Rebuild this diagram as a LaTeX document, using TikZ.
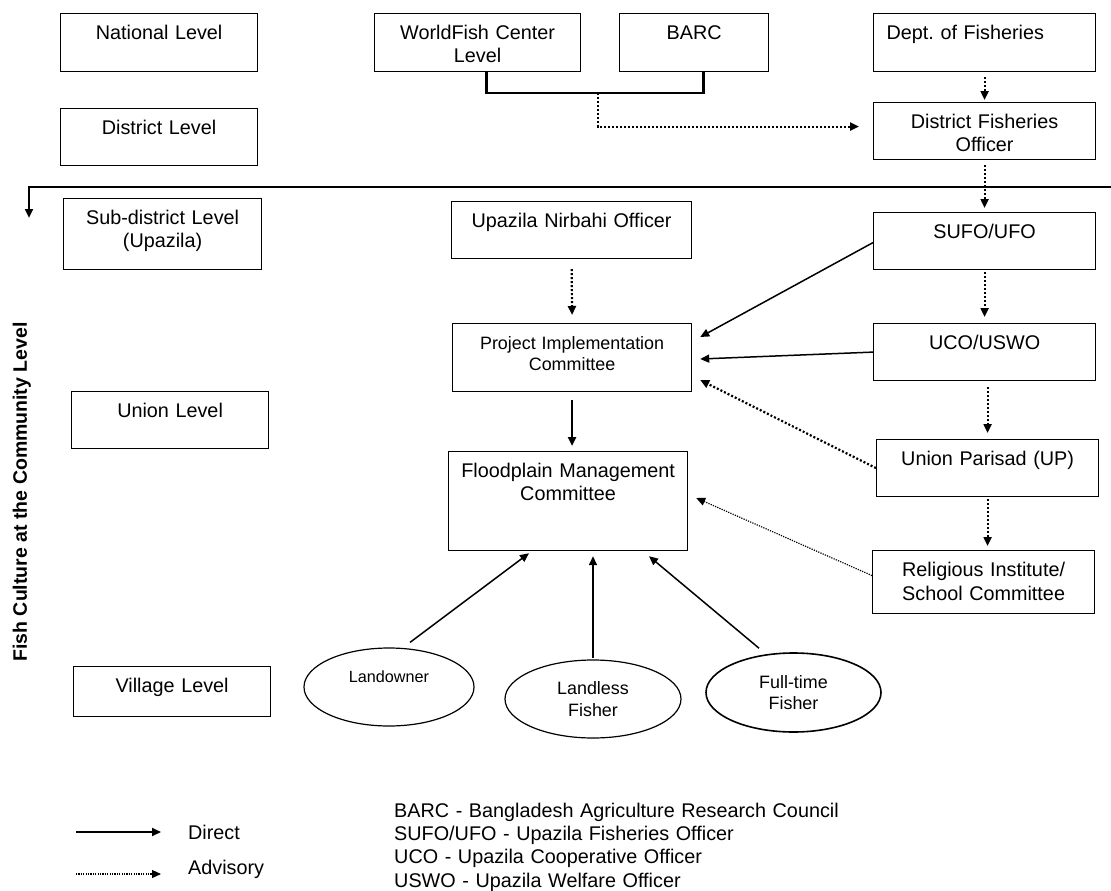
\documentclass[tikz,border=0pt]{standalone}
\usepackage{fontspec}
\setmainfont{Liberation Sans}
\usetikzlibrary{arrows.meta,shapes.geometric}
\begin{document}
\begin{tikzpicture}[x=1pt,y=-1pt,
  lvl/.style={draw,line width=1.2pt,anchor=north west,inner xsep=0pt,inner ysep=4pt,align=center,text height=22pt,font=\fontsize{19.8}{22.5}\selectfont},
  ell/.style={draw,line width=1.2pt,ellipse,inner sep=0pt,align=center,font=\fontsize{17.9}{21.5}\selectfont},
  dir/.style={line width=1.5pt,-{Triangle[length=9pt,width=8pt]}},
  adv/.style={line width=2.2pt,dash pattern=on 2pt off 2pt,-{Triangle[length=9pt,width=8pt]}},
  advthin/.style={line width=1.2pt,dash pattern=on 1.2pt off 1.2pt,-{Triangle[length=9pt,width=8pt]}},
  legtext/.style={inner sep=0pt,font=\fontsize{19.8}{23.4}\selectfont}]
\useasboundingbox (0,0) rectangle (1111,891);
\node[lvl,text width=197pt,text depth=28pt] (nat) at (60,13) {National Level};
\node[lvl,text width=197pt,text depth=27pt] (dist) at (60,108) {District Level};
\node[lvl,text width=198pt,text depth=41pt] (sub) at (63,198) {Sub-district Level\\(Upazila)};
\node[lvl,text width=197pt,text depth=27pt] (uni) at (71,391) {Union Level};
\node[lvl,text width=197pt,text depth=20pt] (vil) at (73,666) {Village Level};
\node[lvl,text width=206pt,text depth=28pt] (wf) at (374,13) {WorldFish Center\\Level};
\node[lvl,text width=149pt,text depth=28pt] (barc) at (619,13) {BARC};
\node[lvl,align=left,inner xsep=13pt,text width=196pt,text depth=28pt] (dept) at (873,13) {Dept.\ of Fisheries};
\node[lvl,text width=222pt,text depth=27pt] (dfo) at (873,102) {District Fisheries\\Officer};
\node[lvl,text width=222pt,text depth=27pt] (sufo) at (873,212) {SUFO/UFO};
\node[lvl,text width=240pt,text depth=27pt] (uno) at (451,201) {Upazila Nirbahi Officer};
\node[lvl,text width=239pt,text depth=38pt,font=\fontsize{17.9}{21}\selectfont] (pic) at (452,323) {Project Implementation\\Committee};
\node[lvl,text width=222pt,text depth=27pt] (uco) at (873,323) {UCO/USWO};
\node[lvl,text width=222pt,text depth=27pt] (up) at (876,439) {Union Parisad (UP)};
\node[lvl,text width=239pt,text depth=69pt] (fmc) at (448,451) {Floodplain Management\\Committee};
\node[lvl,text width=222pt,text depth=33pt,font=\fontsize{19.8}{24}\selectfont] (ri) at (872,550) {Religious Institute/\\School Committee};
\node[ell,minimum width=170pt,minimum height=78pt,text depth=20pt,font=\fontsize{16.2}{19}\selectfont] (lo) at (389,687) {Landowner};
\node[ell,minimum width=176pt,minimum height=78pt] (ll) at (593,699) {Landless\\Fisher};
\node[ell,line width=1.6pt,minimum width=175pt,minimum height=79pt] (ft) at (793.5,692.5) {Full-time\\Fisher};
\node[rotate=90,anchor=base,inner sep=0pt,font=\bfseries\fontsize{19.5}{22}\selectfont] (side) at (27,492) {Fish Culture at the Community Level};
\coordinate (jn) at (598,93);
\coordinate (cutr) at (1111,187);
\coordinate (cutl) at (29,218);
\draw [line width=2.5pt] ([xshift=9pt]wf.south) |- (jn) -| ([xshift=9.5pt]barc.south);
\draw [adv,shorten >=14pt] (jn) |- ([yshift=4.5pt]dfo.west);
\draw [line width=2.5pt,-{Triangle[length=9pt,width=8pt]}] (cutr) -| (cutl);
\draw [adv,shorten <=5pt,shorten >=2pt] (dept.south) -- (dfo.north);
\draw [adv,shorten <=5pt,shorten >=4pt] (dfo.south) -- (sufo.north);
\draw [adv,shorten <=2pt,shorten >=6pt] (sufo.south) -- (uco.north);
\draw [adv,shorten <=6pt,shorten >=6pt] (up.north |- uco.south) -- (up.north);
\draw [adv,shorten <=2pt,shorten >=4pt] (up.south) -- (up.south |- ri.north);
\draw [adv,shorten <=10pt,shorten >=8pt] (uno.south) -- (pic.north);
\draw [dir,line width=2.5pt,shorten <=8pt,shorten >=5pt] (pic.south) -- (pic.south |- fmc.north);
\draw [dir] ([yshift=-1.5pt]sufo.west) -- ([shift={(8,14)}]pic.north east);
\draw [dir] (uco.west) -- ([shift={(8,36)}]pic.north east);
\draw [adv] (up.west) -- ([shift={(8,57)}]pic.north east);
\draw [advthin] ([yshift=6.5pt]ri.west) -- ([shift={(8,47)}]fmc.north east);
\draw [dir] ([shift={(21,-5)}]lo.north) -- ([shift={(81,2)}]fmc.south west);
\draw [dir] ([yshift=1pt]ll.north) -- ([shift={(145,5)}]fmc.south west);
\draw [dir] ([shift={(-34.5,-4)}]ft.north) -- ([shift={(201,5)}]fmc.south west);
\coordinate (ld0) at (76,832);
\coordinate (ld1) at (161,832);
\coordinate (la0) at (76,874);
\coordinate (la1) at (161,874);
\draw [dir,line width=2pt] (ld0) -- (ld1);
\draw [advthin] (la0) -- (la1);
\node[legtext,anchor=west] (ldt) at (188,832) {Direct};
\node[legtext,anchor=west] (lat) at (188,869) {Advisory};
\node[legtext,anchor=base west,text width=520pt,align=left] (abbr) at (394,817) {BARC - Bangladesh Agriculture Research Council\\SUFO/UFO - Upazila Fisheries Officer\\UCO - Upazila Cooperative Officer\\USWO - Upazila Welfare Officer};
\end{tikzpicture}
\end{document}
